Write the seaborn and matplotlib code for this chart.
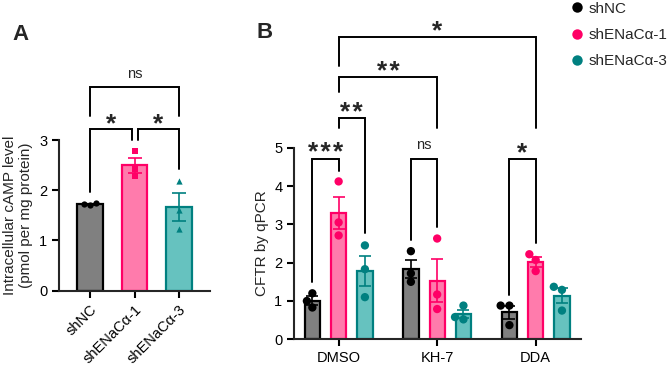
import numpy as np
import pandas as pd
import matplotlib
matplotlib.use('Agg')
import matplotlib.pyplot as plt
import seaborn as sns

sns.set_style('ticks')
plt.rcParams['font.family'] = ['Liberation Sans', 'DejaVu Sans']

# Panel A: intracellular cAMP (pmol per mg protein), 3 replicates each
groups = ['shNC', 'shENaCα-1', 'shENaCα-3']
camp_shnc = [1.72, 1.74, 1.70]
camp_sh1 = [2.78, 2.42, 2.29]
camp_sh3 = [2.18, 1.61, 1.23]

# Panel B: CFTR by qPCR, one list per treatment (DMSO, KH-7, DDA)
treatments = ['DMSO', 'KH-7', 'DDA']
cftr_shnc = [[1.20, 0.83, 1.00], [2.30, 1.72, 1.50], [0.88, 0.88, 0.37]]
cftr_sh1 = [[4.12, 3.05, 2.71], [2.63, 1.17, 0.79], [2.22, 2.07, 1.78]]
cftr_sh3 = [[2.45, 1.83, 1.10], [0.88, 0.58, 0.52], [1.37, 1.29, 0.75]]

fill_colors = ['#808080', '#FF7BAC', '#66C2BF']
edge_colors = ['#000000', '#FF0066', '#008080']
markers_a = ['o', 's', '^']

# significance brackets: (label, x1, x2, top, left leg end, right leg end)
d = 0.8 / 3
brackets_a = [('*', 0, 0.94, 3.21, 1.97, 3.0),
              ('*', 1.08, 2, 3.21, 3.0, 2.42),
              ('ns', 0, 2, 4.05, 3.47, 3.47)]
brackets_b = [('***', -d, 0, 4.71, 1.50, 4.38),
              ('**', 0, d, 5.77, 5.51, 2.78),
              ('**', 0, 1, 6.84, 6.46, 5.51),
              ('*', 0, 2, 7.88, 7.12, 5.51),
              ('ns', 1 - d, 1, 4.71, 2.59, 2.94),
              ('*', 2 - d, 2, 4.71, 1.16, 2.51)]

df_a = pd.DataFrame({'group': np.repeat(groups, 3),
                     'camp': camp_shnc + camp_sh1 + camp_sh3})

rows = []
for g, vals in zip(groups, [cftr_shnc, cftr_sh1, cftr_sh3]):
    for t, reps in zip(treatments, vals):
        for v in reps:
            rows.append({'treatment': t, 'group': g, 'cftr': v})
df_b = pd.DataFrame(rows)


def draw_bracket(ax, label, x1, x2, top, y1, y2):
    ax.plot([x1, x1, x2, x2], [y1, top, top, y2], color='black', lw=1.4,
            clip_on=False, solid_joinstyle='miter', zorder=5)
    if label == 'ns':
        ax.annotate(label, xy=((x1 + x2) / 2, top), xytext=(0, 7),
                    textcoords='offset points', ha='center', va='baseline',
                    fontsize=10.5, annotation_clip=False)
    else:
        ax.annotate('\u200a'.join(label), xy=((x1 + x2) / 2, top), xytext=(0, -1),
                    textcoords='offset points', ha='center', va='baseline',
                    fontsize=19, fontweight='bold', annotation_clip=False)


fig = plt.figure(figsize=(6.71, 3.68), dpi=100)
W, H = 671, 368

# ---- Panel A ----
ax_a = fig.add_axes([59 / W, (H - 290.7) / H, 151 / W, 150.7 / H])
sns.barplot(data=df_a, x='group', y='camp', hue='group', order=groups,
            hue_order=groups, palette=fill_colors, saturation=1, errorbar=None,
            width=0.58, linewidth=1.6, legend=False, ax=ax_a)
for bar, ec in zip(ax_a.patches, edge_colors):
    bar.set_edgecolor(ec)

stats_a = df_a.groupby('group')['camp'].agg(['mean', 'sem']).reindex(groups)
for i, g in enumerate(groups):
    ax_a.errorbar(i, stats_a.loc[g, 'mean'], yerr=stats_a.loc[g, 'sem'],
                  color=edge_colors[i], capsize=5, lw=1.2, capthick=1.2, zorder=3)
    sns.swarmplot(data=df_a[df_a['group'] == g], x='group', y='camp',
                  order=groups, color=edge_colors[i], marker=markers_a[i],
                  size=4.5, ax=ax_a, zorder=4)

ax_a.set_xlim(-0.7, 2.7)
ax_a.set_ylim(0, 3)
ax_a.set_yticks([0, 1, 2, 3])
ax_a.set_xlabel('')
ax_a.set_ylabel('Intracellular cAMP level\n(pmol per mg protein)', fontsize=11)
ax_a.set_xticks(range(3))
ax_a.set_xticklabels(groups, rotation=45, ha='right', rotation_mode='anchor',
                     fontsize=10.5)
for label, x1, x2, top, y1, y2 in brackets_a:
    draw_bracket(ax_a, label, x1, x2, top, y1, y2)

# ---- Panel B ----
ax_b = fig.add_axes([294.3 / W, (H - 339.3) / H, 286.7 / W, 191.6 / H])
sns.barplot(data=df_b, x='treatment', y='cftr', hue='group', order=treatments,
            hue_order=groups, palette=fill_colors, saturation=1, errorbar=None,
            width=0.8, gap=0.42, linewidth=1.6, legend=False, ax=ax_b)
stats_b = df_b.groupby(['group', 'treatment'])['cftr'].agg(['mean', 'sem'])
for k, (cont, g) in enumerate(zip(ax_b.containers, groups)):
    for bar, t in zip(cont, treatments):
        bar.set_edgecolor(edge_colors[k])
        xc = bar.get_x() + bar.get_width() / 2
        ax_b.errorbar(xc, stats_b.loc[(g, t), 'mean'], yerr=stats_b.loc[(g, t), 'sem'],
                      color=edge_colors[k], capsize=4, lw=1.2, capthick=1.2, zorder=3)

sns.swarmplot(data=df_b, x='treatment', y='cftr', hue='group', order=treatments,
              hue_order=groups, dodge=True, palette=edge_colors, size=6,
              ax=ax_b, zorder=4)
ax_b.legend(loc='upper left', bbox_to_anchor=(562 / W, 1.012), bbox_transform=fig.transFigure,
            frameon=False, fontsize=11, handletextpad=0.15, labelspacing=0.8,
            borderaxespad=0, handlelength=1.2, markerscale=1.25)

ax_b.set_xlim(-0.45, 2.46)
ax_b.set_ylim(0, 5)
ax_b.set_yticks([0, 1, 2, 3, 4, 5])
ax_b.set_xlabel('')
ax_b.set_ylabel('CFTR by qPCR', fontsize=11)
for label, x1, x2, top, y1, y2 in brackets_b:
    draw_bracket(ax_b, label, x1, x2, top, y1, y2)

for ax in (ax_a, ax_b):
    for s in ('top', 'right'):
        ax.spines[s].set_visible(False)
    for s in ('left', 'bottom'):
        ax.spines[s].set_linewidth(1.5)
    ax.tick_params(width=1.5, length=5, labelsize=10.5, colors='black')

fig.text(12 / W, 1 - 40 / H, 'A', fontsize=16, fontweight='bold')
fig.text(257 / W, 1 - 38 / H, 'B', fontsize=16, fontweight='bold')

fig.savefig('out.png', dpi=100)
